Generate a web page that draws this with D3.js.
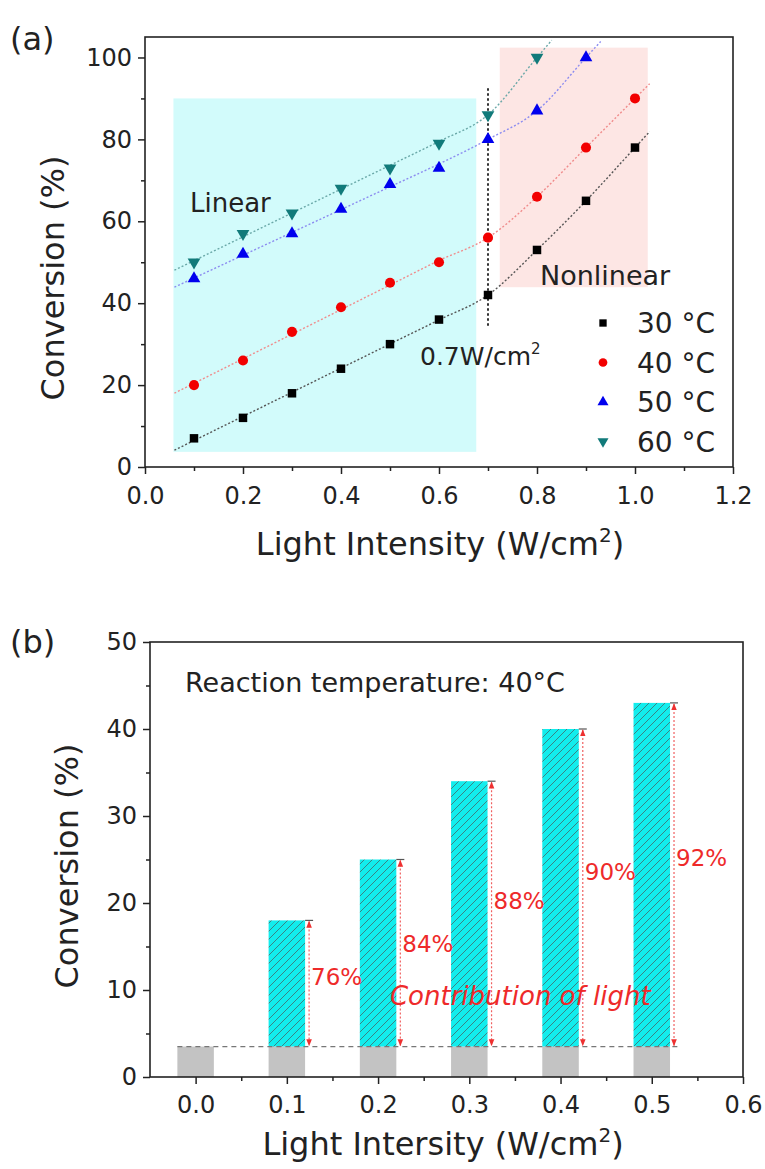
<!DOCTYPE html>
<html>
<head>
<meta charset="utf-8">
<script src="https://cdnjs.cloudflare.com/ajax/libs/d3/7.8.5/d3.min.js"></script>
<style>
body { margin: 0; background: #fff; }
svg { display: block; font-family: "DejaVu Sans", sans-serif; }
</style>
</head>
<body>
<div id="figure"></div>
<script>
// ---- panel (a) data ----
var intensityA = [0.1, 0.2, 0.3, 0.4, 0.5, 0.6, 0.7, 0.8, 0.9, 1.0];
var tempLabels = ["30 °C", "40 °C", "50 °C", "60 °C"];
var conv30 = [7, 12, 18, 24, 30, 36, 42, 53, 65, 78];
var conv40 = [20, 26, 33, 39, 45, 50, 56, 66, 78, 90];
var conv50 = [46, 52, 57, 63, 69, 73, 80, 87, 100];
var conv60 = [50, 57, 62, 68, 73, 79, 86, 100];
var xTicksA = [0, 0.2, 0.4, 0.6, 0.8, 1.0, 1.2];
var yTicksA = [0, 20, 40, 60, 80, 100];
var linearZone = [0.058, 0.676, 3.7, 90];      // x0, x1, y0, y1
var nonlinearZone = [0.724, 1.026, 43.9, 102.4];
var threshold = 0.7;
var thresholdSpan = [34, 92.5];

// ---- panel (b) data ----
var intensityB = [0, 0.1, 0.2, 0.3, 0.4, 0.5];
var totalB = [3.5, 18, 25, 34, 40, 43];
var darkB = 3.5;
var lightShare = ["", "76%", "84%", "88%", "90%", "92%"];
var xTicksB = [0, 0.1, 0.2, 0.3, 0.4, 0.5, 0.6];
var yTicksB = [0, 10, 20, 30, 40, 50];

var svg = d3.select('#figure')
    .append('svg')
    .attr('width', 765)
    .attr('height', 1169);

var defs = svg.append('defs');

// hatch for the light contribution
var hatch = defs.append('pattern')
    .attr('id', 'hatch')
    .attr('patternUnits', 'userSpaceOnUse')
    .attr('width', 8)
    .attr('height', 8);
hatch.append('rect').attr('width', 8).attr('height', 8).attr('fill', '#12eded');
hatch.append('path')
    .attr('d', 'M-1,1 l2,-2 M0,8 l8,-8 M7,9 l2,-2')
    .attr('stroke', '#3d7878')
    .attr('stroke-width', 0.9);

defs.append('marker')
    .attr('id', 'arrow')
    .attr('viewBox', '0 0 10 10')
    .attr('refX', 9).attr('refY', 5)
    .attr('markerWidth', 7).attr('markerHeight', 7)
    .attr('markerUnits', 'userSpaceOnUse')
    .attr('orient', 'auto-start-reverse')
    .append('path')
    .attr('d', 'M0,1 L10,5 L0,9 Z')
    .attr('fill', '#ee3030');

defs.append('clipPath').attr('id', 'clipA')
    .append('rect').attr('x', 145).attr('y', 37).attr('width', 588).attr('height', 430);

function drawAxes(x, y, xMajor, xMinor, yMajor, yMinor, xFmt, xPad){
    var xb = y.range()[0];
    var yl = x.range()[0];

    var gx = svg.append('g')
        .attr('transform', 'translate(0,' + xb + ')')
        .call(d3.axisBottom(x).tickValues(xMajor).tickSize(7).tickPadding(xPad).tickFormat(xFmt));
    svg.append('g')
        .attr('transform', 'translate(0,' + xb + ')')
        .call(d3.axisBottom(x).tickValues(xMinor).tickSize(4).tickFormat(''));

    var gy = svg.append('g')
        .attr('transform', 'translate(' + yl + ',0)')
        .call(d3.axisLeft(y).tickValues(yMajor).tickSize(7).tickPadding(6).tickFormat(d3.format('d')));
    svg.append('g')
        .attr('transform', 'translate(' + yl + ',0)')
        .call(d3.axisLeft(y).tickValues(yMinor).tickSize(4).tickFormat(''));

    svg.selectAll('.domain').remove();
    svg.selectAll('.tick line').attr('stroke', '#222').attr('stroke-width', 1.5);
    [gx, gy].forEach(function(g){
        g.selectAll('text')
            .attr('font-size', 24)
            .attr('font-family', '"DejaVu Sans", sans-serif')
            .attr('fill', '#222');
    });

    // frame
    svg.append('rect')
        .attr('x', x.range()[0])
        .attr('y', y.range()[1])
        .attr('width', x.range()[1] - x.range()[0])
        .attr('height', y.range()[0] - y.range()[1])
        .attr('fill', 'none')
        .attr('stroke', '#222')
        .attr('stroke-width', 1.6);
}

function xTitle(cx, by, main){
    var t = svg.append('text')
        .attr('x', cx).attr('y', by)
        .attr('text-anchor', 'middle')
        .attr('font-size', 32)
        .attr('fill', '#222');
    t.append('tspan').text(main + ' (W/cm');
    t.append('tspan').attr('font-size', 20).attr('dy', -13).text('2');
    t.append('tspan').attr('dy', 13).text(')');
}

function yTitle(bx, cy){
    svg.append('text')
        .attr('transform', 'translate(' + bx + ',' + cy + ') rotate(-90)')
        .attr('text-anchor', 'middle')
        .attr('font-size', 32)
        .attr('fill', '#222')
        .text('Conversion (%)');
}

// ================= (a) =================
var xA = d3.scaleLinear().domain([0, 1.2]).range([145, 733]);
var yA = d3.scaleLinear().domain([0, 105]).range([467, 37]);

svg.append('rect')
    .attr('x', xA(linearZone[0])).attr('y', yA(linearZone[3]))
    .attr('width', xA(linearZone[1]) - xA(linearZone[0]))
    .attr('height', yA(linearZone[2]) - yA(linearZone[3]))
    .attr('fill', '#d2fbfb');
svg.append('rect')
    .attr('x', xA(nonlinearZone[0])).attr('y', yA(nonlinearZone[3]))
    .attr('width', xA(nonlinearZone[1]) - xA(nonlinearZone[0]))
    .attr('height', yA(nonlinearZone[2]) - yA(nonlinearZone[3]))
    .attr('fill', '#fde6e4');

var seriesA = [
    {name: tempLabels[0], values: conv30, color: '#000000', fit: '#555555', symbol: d3.symbolSquare, size: 72, rot: 0},
    {name: tempLabels[1], values: conv40, color: '#f20000', fit: '#f08c8c', symbol: d3.symbolCircle, size: 80, rot: 0},
    {name: tempLabels[2], values: conv50, color: '#0000ee', fit: '#8c8cf0', symbol: d3.symbolTriangle, size: 70, rot: 0},
    {name: tempLabels[3], values: conv60, color: '#117a7a', fit: '#6aa8a8', symbol: d3.symbolTriangle, size: 70, rot: 180}
];

var fitLine = d3.line()
    .curve(d3.curveMonotoneX)
    .x(function(d){ return xA(d[0]); })
    .y(function(d){ return yA(d[1]); });

seriesA.forEach(function(s){
    var pts = s.values.map(function(v, i){ return [intensityA[i], v]; });
    // straight least squares fit over the linear range
    var lin = pts.filter(function(p){ return p[0] <= threshold + 1e-9; });
    var mx = d3.mean(lin, function(p){ return p[0]; });
    var my = d3.mean(lin, function(p){ return p[1]; });
    var slope = d3.sum(lin, function(p){ return (p[0] - mx) * (p[1] - my); }) /
                d3.sum(lin, function(p){ return (p[0] - mx) * (p[0] - mx); });
    var reg = function(x){ return my + slope * (x - mx); };

    // fitted line below the threshold, measured points from it on
    var line_data = [[0.06, reg(0.06)]]
        .concat(pts.filter(function(p){ return p[0] < threshold - 1e-9; })
            .map(function(p){ return [p[0], reg(p[0])]; }))
        .concat(pts.filter(function(p){ return p[0] >= threshold - 1e-9; }));
    var n = line_data.length;
    var a = line_data[n - 2], b = line_data[n - 1];
    var s1 = (b[1] - a[1]) / (b[0] - a[0]);
    line_data.push([b[0] + 0.03, b[1] + s1 * 0.03]);

    svg.append('path')
        .datum(line_data)
        .attr('d', fitLine)
        .attr('clip-path', 'url(#clipA)')
        .attr('fill', 'none')
        .attr('stroke', s.fit)
        .attr('stroke-width', 1.4)
        .attr('stroke-dasharray', '2,2');
});

// threshold line
svg.append('line')
    .attr('x1', xA(threshold)).attr('x2', xA(threshold))
    .attr('y1', yA(thresholdSpan[1])).attr('y2', yA(thresholdSpan[0]))
    .attr('stroke', '#333')
    .attr('stroke-width', 2)
    .attr('stroke-dasharray', '2.5,2.5');

seriesA.forEach(function(s){
    svg.append('g').selectAll('path')
        .data(s.values)
        .enter()
        .append('path')
        .attr('d', d3.symbol().type(s.symbol).size(s.size))
        .attr('transform', function(d, i){
            return 'translate(' + xA(intensityA[i]) + ',' + yA(d) + ') rotate(' + s.rot + ')';
        })
        .attr('fill', s.color);
});

svg.append('text')
    .attr('x', 190).attr('y', 212)
    .attr('font-size', 26).attr('fill', '#222')
    .text('Linear');
svg.append('text')
    .attr('x', 540).attr('y', 285)
    .attr('font-size', 27).attr('fill', '#222')
    .text('Nonlinear');

var thr = svg.append('text')
    .attr('x', 420).attr('y', 365)
    .attr('font-size', 25).attr('fill', '#222');
thr.append('tspan').text('0.7W/cm');
thr.append('tspan').attr('font-size', 15).attr('dy', -11).text('2');

// legend
seriesA.forEach(function(s, i){
    var cy = 323 + 39.5 * i;
    svg.append('path')
        .attr('d', d3.symbol().type(s.symbol).size(s.size * 0.75))
        .attr('transform', 'translate(603,' + cy + ') rotate(' + s.rot + ')')
        .attr('fill', s.color);
    svg.append('text')
        .attr('x', 637).attr('y', cy)
        .attr('dy', '0.36em')
        .attr('font-size', 28).attr('fill', '#222')
        .text(s.name);
});

drawAxes(xA, yA, xTicksA, [0.1, 0.3, 0.5, 0.7, 0.9, 1.1], yTicksA, [10, 30, 50, 70, 90], d3.format('.1f'), 13);
yTitle(64, 278);
xTitle(440, 555, 'Light Intensity');

svg.append('text')
    .attr('x', 10).attr('y', 50)
    .attr('font-size', 32).attr('fill', '#222')
    .text('(a)');

// ================= (b) =================
var xB = d3.scaleLinear().domain([-0.05, 0.6]).range([150, 743]);
var yB = d3.scaleLinear().domain([0, 50]).range([1077, 642]);
var barW = xB(0.04) - xB(0);

svg.append('text')
    .attr('x', 185).attr('y', 692)
    .attr('font-size', 27).attr('fill', '#222')
    .text('Reaction temperature: 40°C');

// dark (no light) part
svg.append('g').selectAll('rect')
    .data(intensityB)
    .enter()
    .append('rect')
    .attr('x', function(d){ return xB(d) - barW / 2; })
    .attr('y', yB(darkB))
    .attr('width', barW)
    .attr('height', yB(0) - yB(darkB))
    .attr('fill', '#c3c3c3');

// light contribution
var lit = intensityB.map(function(d, i){ return {x: d, total: totalB[i], share: lightShare[i]}; })
    .filter(function(d){ return d.total > darkB; });

svg.append('g').selectAll('rect')
    .data(lit)
    .enter()
    .append('rect')
    .attr('x', function(d){ return xB(d.x) - barW / 2; })
    .attr('y', function(d){ return yB(d.total); })
    .attr('width', barW)
    .attr('height', function(d){ return yB(darkB) - yB(d.total); })
    .attr('fill', 'url(#hatch)');

// dashed dark level
svg.append('line')
    .attr('x1', xB(intensityB[0]) - barW / 2)
    .attr('x2', xB(intensityB[intensityB.length - 1]) + barW / 2 + 10)
    .attr('y1', yB(darkB)).attr('y2', yB(darkB))
    .attr('stroke', '#777')
    .attr('stroke-width', 1.3)
    .attr('stroke-dasharray', '5,4');

// caps at the bar tops
svg.append('g').selectAll('line')
    .data(lit)
    .enter()
    .append('line')
    .attr('x1', function(d){ return xB(d.x) + barW / 2; })
    .attr('x2', function(d){ return xB(d.x) + barW / 2 + 8; })
    .attr('y1', function(d){ return yB(d.total); })
    .attr('y2', function(d){ return yB(d.total); })
    .attr('stroke', '#555')
    .attr('stroke-width', 1.2);

// double arrows
svg.append('g').selectAll('line')
    .data(lit)
    .enter()
    .append('line')
    .attr('x1', function(d){ return xB(d.x) + barW / 2 + 4; })
    .attr('x2', function(d){ return xB(d.x) + barW / 2 + 4; })
    .attr('y1', function(d){ return yB(d.total) + 1; })
    .attr('y2', function(d){ return yB(darkB) - 1; })
    .attr('stroke', '#f06060')
    .attr('stroke-width', 1.2)
    .attr('stroke-dasharray', '2,2')
    .attr('marker-start', 'url(#arrow)')
    .attr('marker-end', 'url(#arrow)');

svg.append('g').selectAll('text')
    .data(lit)
    .enter()
    .append('text')
    .attr('x', function(d){ return xB(d.x) + barW / 2 + 6; })
    .attr('y', function(d){ return yB(darkB + (d.total - darkB) * 0.55); })
    .attr('dy', '0.36em')
    .attr('font-size', 23)
    .attr('fill', '#ee2a2a')
    .text(function(d){ return d.share; });

svg.append('text')
    .attr('x', xB(0.213)).attr('y', yB(9.4))
    .attr('dy', '0.36em')
    .attr('font-size', 26)
    .attr('font-style', 'italic')
    .attr('fill', '#ee2a2a')
    .text('Contribution of light');

drawAxes(xB, yB, xTicksB, [0.05, 0.15, 0.25, 0.35, 0.45, 0.55], yTicksB, [5, 15, 25, 35, 45], d3.format('.1f'), 12);
yTitle(78, 866);
xTitle(443, 1155, 'Light Intersity');

svg.append('text')
    .attr('x', 10).attr('y', 653)
    .attr('font-size', 32).attr('fill', '#222')
    .text('(b)');
</script>
</body>
</html>
